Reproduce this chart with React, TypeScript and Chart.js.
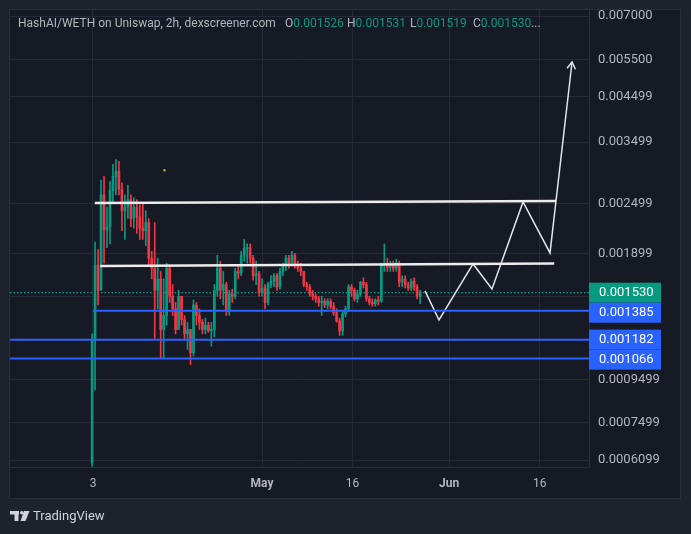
import { useEffect, useRef } from "react";
import { Chart, registerables } from "chart.js";

Chart.register(...registerables);

// ---- time axis: values are days after Apr 1 00:00 ----
const CANDLE_START_DAY = 1.85;
const CANDLE_STEP_DAY = 0.494;
const X_MIN = -11.75;
const X_MAX = 84.17;

const xTickDays = [2, 30, 45, 61, 76];
const xTickLabels = ["3", "May", "16", "Jun", "16"];
const xTickBold = [false, true, false, true, false];

// ---- price axis ----
const Y_MIN = 0.000587;
const Y_MAX = 0.007235;
const yTickValues = [0.007, 0.0055, 0.004499, 0.003499, 0.002499, 0.001899, 0.001499, 0.0009499, 0.0007499, 0.0006099];
const yTickLabels = ["0.007000", "0.005500", "0.004499", "0.003499", "0.002499", "0.001899", "0.001499", "0.0009499", "0.0007499", "0.0006099"];

// ---- candles (aggregated); open = previous close ----
const firstOpen = 0.0006;
const candleHigh = [
  0.00122, 0.00202, 0.00194, 0.00284, 0.0029, 0.00245, 0.00282, 0.0031, 0.00318, 0.00315,
  0.0028, 0.00262, 0.00276, 0.00262, 0.00258, 0.00255, 0.00248, 0.0025, 0.0024, 0.0023,
  0.00192, 0.00225, 0.00185, 0.00172, 0.00165, 0.0018, 0.00178, 0.0016, 0.00145, 0.00155,
  0.0015, 0.00135, 0.0013, 0.00125, 0.00147, 0.00145, 0.0014, 0.00132, 0.00133, 0.0013,
  0.0013, 0.0016, 0.00188, 0.00182, 0.00172, 0.00162, 0.00155, 0.00156, 0.00175, 0.00178,
  0.00192, 0.00205, 0.002, 0.002, 0.00188, 0.00182, 0.00172, 0.00165, 0.0016, 0.00162,
  0.00168, 0.0017, 0.0017, 0.00175, 0.0018, 0.00188, 0.00188, 0.00192, 0.0019, 0.00182,
  0.0018, 0.00172, 0.00162, 0.0016, 0.00155, 0.00152, 0.0015, 0.0015, 0.00148, 0.00148,
  0.00148, 0.00145, 0.0014, 0.00133, 0.00138, 0.00142, 0.0016, 0.0016, 0.00157, 0.00155,
  0.00163, 0.00166, 0.00162, 0.0015, 0.00148, 0.00148, 0.0015, 0.0018, 0.002, 0.00185,
  0.00182, 0.00182, 0.00184, 0.00182, 0.00168, 0.00168, 0.00162, 0.00165, 0.00166, 0.0016,
  0.00155,
];
const candleLow = [
  0.00059, 0.000897, 0.00143, 0.00156, 0.0018, 0.00196, 0.002, 0.0025, 0.00262, 0.00262,
  0.00215, 0.00205, 0.0023, 0.0022, 0.00218, 0.00212, 0.00205, 0.00205, 0.00198, 0.00178,
  0.00165, 0.00119, 0.0014, 0.00107, 0.00107, 0.00128, 0.00145, 0.00135, 0.00122, 0.00125,
  0.00128, 0.00118, 0.00112, 0.00103, 0.00108, 0.00128, 0.00125, 0.00122, 0.00122, 0.00123,
  0.00114, 0.0012, 0.0015, 0.00148, 0.00143, 0.00135, 0.00135, 0.00145, 0.00148, 0.00165,
  0.00168, 0.00182, 0.0018, 0.0018, 0.00164, 0.0016, 0.0015, 0.0015, 0.0014, 0.00143,
  0.00157, 0.00158, 0.00155, 0.00156, 0.00168, 0.00173, 0.00175, 0.00178, 0.00175, 0.00172,
  0.00168, 0.00158, 0.00155, 0.0015, 0.00147, 0.00145, 0.00142, 0.00135, 0.00141, 0.0014,
  0.0014, 0.00135, 0.0013, 0.00121, 0.00121, 0.00134, 0.00138, 0.0015, 0.00146, 0.00145,
  0.0015, 0.00157, 0.00146, 0.00143, 0.00142, 0.00142, 0.00143, 0.00145, 0.00172, 0.00172,
  0.00172, 0.00172, 0.00172, 0.00158, 0.00158, 0.00157, 0.00155, 0.00155, 0.00155, 0.00148,
  0.00144,
];
const candleClose = [
  0.00118, 0.00178, 0.00155, 0.00262, 0.00216, 0.0022, 0.00268, 0.0029, 0.00298, 0.0027,
  0.0024, 0.00245, 0.00255, 0.0023, 0.00245, 0.00232, 0.00218, 0.00215, 0.00225, 0.00185,
  0.00175, 0.00155, 0.00165, 0.00125, 0.00135, 0.00175, 0.0015, 0.0014, 0.00125, 0.0015,
  0.00132, 0.00122, 0.00125, 0.0011, 0.00143, 0.00135, 0.0013, 0.00125, 0.00128, 0.00124,
  0.00125, 0.00155, 0.00175, 0.00155, 0.0016, 0.00138, 0.00152, 0.0015, 0.00172, 0.0017,
  0.00188, 0.00195, 0.00196, 0.00185, 0.00168, 0.0017, 0.00153, 0.00157, 0.00145, 0.0016,
  0.00163, 0.00168, 0.00158, 0.00172, 0.00178, 0.00185, 0.0018, 0.00188, 0.00178, 0.00175,
  0.00172, 0.0016, 0.00158, 0.00152, 0.0015, 0.00148, 0.00145, 0.00146, 0.00143, 0.00146,
  0.00142, 0.00137, 0.00131, 0.00124, 0.00136, 0.0014, 0.00158, 0.00155, 0.00148, 0.00152,
  0.00162, 0.0016, 0.00148, 0.00145, 0.00144, 0.00147, 0.00146, 0.00178, 0.0018, 0.00176,
  0.00178, 0.00175, 0.0018, 0.00162, 0.00165, 0.0016, 0.00157, 0.00163, 0.00158, 0.0015,
  0.00153,
];

// ---- drawings ----
const upperTrendX = [2.3, 78.7];
const upperTrendY = [0.002505, 0.002533];
const lowerTrendX = [3.2, 78.4];
const lowerTrendY = [0.001772, 0.001797];
const supportLevels = [0.001385, 0.001182, 0.001066];
const supportStartDay = [2, X_MIN, X_MIN];
const lastPrice = 0.00153;
const projectionX = [57.0, 59.32, 64.96, 68.1, 73.24, 77.71, 81.36];
const projectionY = [0.001545, 0.001317, 0.001792, 0.001562, 0.002519, 0.001904, 0.005437];
const markerX = [13.85];
const markerY = [0.003];

const priceTags = [
  { value: 0.00153, text: "0.001530", color: "#089981" },
  { value: 0.001385, text: "0.001385", color: "#2962ff" },
  { value: 0.001182, text: "0.001182", color: "#2962ff" },
  { value: 0.001066, text: "0.001066", color: "#2962ff" },
];

const headerTitle = "HashAI/WETH on Uniswap, 2h, dexscreener.com";
const headerOHLC = [
  { k: "O", v: "0.001526", x: 285 },
  { k: "H", v: "0.001531", x: 347 },
  { k: "L", v: "0.001519", x: 410 },
  { k: "C", v: "0.001530", x: 473 },
];

const UP = "#089981";
const DOWN = "#f23645";
const GRID = "#252935";
const BORDER = "#2a2e39";
const TEXT = "#b2b5be";
const FONT = "Roboto, 'Liberation Sans', sans-serif";

export default function App() {
  const ref = useRef<HTMLCanvasElement | null>(null);

  useEffect(() => {
    if (!ref.current) return;
    const opens: number[] = [];
    candleClose.forEach((c, i) => opens.push(i === 0 ? firstOpen : candleClose[i - 1]));
    const xs = candleClose.map((_, i) => CANDLE_START_DAY + i * CANDLE_STEP_DAY);
    const colors = candleClose.map((c, i) => (c >= opens[i] ? UP : DOWN));

    const wicks = xs.map((x, i) => ({ x, y: [candleLow[i], candleHigh[i]] }));
    const bodies = xs.map((x, i) => ({ x, y: [opens[i], candleClose[i]] }));

    const lineDs = (data: { x: number; y: number }[], color: string, width: number, extra: any = {}) => ({
      type: "line" as const,
      data,
      borderColor: color,
      borderWidth: width,
      pointRadius: 0,
      fill: false,
      tension: 0,
      order: 0,
      ...extra,
    });

    const bgPlugin = {
      id: "bg",
      beforeDraw(chart: any) {
        const c = chart.ctx;
        c.save();
        c.fillStyle = "#1e222d";
        c.fillRect(0, 0, chart.width, chart.height);
        c.fillStyle = "#161a25";
        c.fillRect(10, 10, 670, 488);
        c.strokeStyle = BORDER;
        c.lineWidth = 1;
        c.strokeRect(9.5, 9.5, 671, 489);
        c.restore();
      },
      afterDatasetsDraw(chart: any) {
        const meta = chart.getDatasetMeta(chart.data.datasets.findIndex((d: any) => d.label === "projection"));
        const pts = meta.data;
        if (pts.length < 2) return;
        const a = pts[pts.length - 2];
        const b = pts[pts.length - 1];
        const ang = Math.atan2(b.y - a.y, b.x - a.x);
        const c = chart.ctx;
        c.save();
        c.strokeStyle = "#e0e3eb";
        c.lineWidth = 1.5;
        c.beginPath();
        const L = 8;
        c.moveTo(b.x - L * Math.cos(ang - 0.55), b.y - L * Math.sin(ang - 0.55));
        c.lineTo(b.x, b.y);
        c.lineTo(b.x - L * Math.cos(ang + 0.55), b.y - L * Math.sin(ang + 0.55));
        c.stroke();
        c.restore();
      },
      afterDraw(chart: any) {
        const c = chart.ctx;
        const ys = chart.scales.y;
        c.save();
        // header
        c.font = `12px ${FONT}`;
        c.textBaseline = "middle";
        c.textAlign = "left";
        c.fillStyle = TEXT;
        c.fillText(headerTitle, 18, 24);
        headerOHLC.forEach((h) => {
          c.fillStyle = TEXT;
          c.fillText(h.k, h.x, 24);
          const w = c.measureText(h.k).width;
          c.fillStyle = UP;
          c.fillText(h.v, h.x + w, 24);
        });
        const lastEnd = headerOHLC[3].x + c.measureText(headerOHLC[3].k + headerOHLC[3].v).width;
        c.fillStyle = TEXT;
        c.fillText("...", lastEnd, 24);

        // price tags
        let prevBottom = -Infinity;
        c.font = `13px ${FONT}`;
        priceTags.forEach((t) => {
          let top = ys.getPixelForValue(t.value) - 10;
          if (top < prevBottom) top = prevBottom;
          c.fillStyle = t.color;
          c.fillRect(589, top, 72, 20);
          c.fillStyle = "#ffffff";
          c.fillText(t.text, 599, top + 10.5);
          prevBottom = top + 20;
        });

        // footer logo
        c.fillStyle = "#d1d4dc";
        c.fillRect(10, 511, 9, 3.5);
        c.fillRect(14.5, 511, 4, 10);
        c.beginPath();
        c.arc(21.8, 512.8, 1.8, 0, Math.PI * 2);
        c.fill();
        c.beginPath();
        c.moveTo(24, 511);
        c.lineTo(29.5, 511);
        c.lineTo(25.5, 521);
        c.lineTo(20.5, 521);
        c.closePath();
        c.fill();
        c.font = `13px ${FONT}`;
        c.fillText("TradingView", 33, 517);
        c.restore();
      },
    };

    const chart = new Chart(ref.current, {
      type: "bar",
      data: {
        datasets: [
          lineDs(
            [{ x: X_MIN, y: lastPrice }, { x: X_MAX, y: lastPrice }],
            UP,
            1.3,
            { borderDash: [1.5, 2], order: 20 }
          ),
          {
            type: "bar",
            data: wicks as any,
            backgroundColor: colors,
            barThickness: 1,
            grouped: false,
            order: 10,
          } as any,
          {
            type: "bar",
            data: bodies as any,
            backgroundColor: colors,
            barThickness: 2,
            minBarLength: 1,
            grouped: false,
            order: 9,
          } as any,
          ...supportLevels.map((v, i) =>
            lineDs([{ x: supportStartDay[i], y: v }, { x: X_MAX, y: v }], "#2962ff", 2)
          ),
          lineDs(upperTrendX.map((x, i) => ({ x, y: upperTrendY[i] })), "#ececec", 2.5),
          lineDs(lowerTrendX.map((x, i) => ({ x, y: lowerTrendY[i] })), "#ececec", 2.5),
          lineDs(projectionX.map((x, i) => ({ x, y: projectionY[i] })), "#e0e3eb", 1.5, { label: "projection" }),
          {
            type: "scatter",
            data: markerX.map((x, i) => ({ x, y: markerY[i] })),
            pointRadius: 1.2,
            pointBackgroundColor: "#c9b21a",
            pointBorderWidth: 0,
            order: 0,
          } as any,
        ],
      },
      options: {
        responsive: false,
        animation: false,
        events: [],
        layout: { padding: { left: 10, top: 10, right: 11, bottom: 36 }, autoPadding: false },
        plugins: { legend: { display: false }, tooltip: { enabled: false } },
        scales: {
          x: {
            type: "linear",
            min: X_MIN,
            max: X_MAX,
            offset: false,
            bounds: "data",
            afterBuildTicks: (s: any) => {
              s.ticks = xTickDays.map((v) => ({ value: v }));
            },
            afterFit: (s: any) => {
              s.height = 31;
              s.paddingLeft = 0;
              s.paddingRight = 0;
            },
            grid: { color: GRID, drawTicks: false, offset: false },
            border: { display: true, color: BORDER },
            ticks: {
              autoSkip: false,
              maxRotation: 0,
              padding: 10,
              color: TEXT,
              font: (ctx: any) => ({ family: FONT, size: 12, weight: xTickBold[ctx.index] ? "bold" : "normal" }),
              callback: (_v: any, i: number) => xTickLabels[i],
            },
          },
          y: {
            type: "logarithmic",
            position: "right",
            min: Y_MIN,
            max: Y_MAX,
            bounds: "data",
            afterBuildTicks: (s: any) => {
              s.ticks = yTickValues.map((v) => ({ value: v }));
            },
            afterFit: (s: any) => {
              s.width = 91;
              s.paddingTop = 0;
              s.paddingBottom = 0;
            },
            grid: { color: GRID, drawTicks: false },
            border: { display: true, color: BORDER },
            ticks: {
              autoSkip: false,
              padding: 9,
              color: TEXT,
              font: { family: FONT, size: 13 },
              callback: (_v: any, i: number) => yTickLabels[i],
            },
          },
        },
      } as any,
      plugins: [bgPlugin],
    });
    return () => chart.destroy();
  }, []);

  return (
    <div style={{ position: "fixed", left: 0, top: 0, width: 691, height: 534 }}>
      <canvas ref={ref} width={691} height={534} style={{ display: "block" }} />
    </div>
  );
}
